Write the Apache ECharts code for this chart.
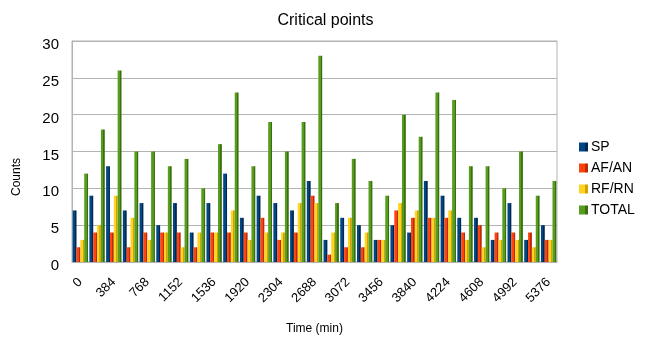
<!DOCTYPE html>
<html>
<head>
<meta charset="utf-8">
<script src="https://cdn.jsdelivr.net/npm/echarts@6/dist/echarts.min.js"></script>
<style>
  html, body { margin: 0; padding: 0; background: #fff; }
  #chart { width: 651px; height: 340px; }
</style>
</head>
<body>
<div id="chart"></div>
<script>
// Time steps (min), one group every 192 min
const times = [0, 192, 384, 576, 768, 960, 1152, 1344, 1536, 1728, 1920, 2112, 2304, 2496,
  2688, 2880, 3072, 3264, 3456, 3648, 3840, 4032, 4224, 4416, 4608, 4800, 4992, 5184, 5376];

const sp    = [7, 9, 13, 7, 8, 5, 8, 4, 8, 12, 6, 9, 8, 7, 11, 3, 6, 5, 3, 5, 4, 11, 9, 6, 6, 3, 8, 3, 5];
const afan  = [2, 4, 4, 2, 4, 4, 4, 2, 4, 4, 4, 6, 3, 4, 9, 1, 2, 2, 3, 7, 6, 6, 6, 4, 5, 4, 4, 4, 3];
const rfrn  = [3, 5, 9, 6, 3, 4, 2, 4, 4, 7, 3, 4, 4, 8, 8, 4, 6, 4, 3, 8, 7, 6, 7, 3, 2, 3, 3, 2, 3];
const total = [12, 18, 26, 15, 15, 13, 14, 10, 16, 23, 13, 19, 15, 19, 28, 8, 14, 11, 9, 20, 17, 23, 22, 13, 13, 10, 15, 9, 11];

const yTicks = [0, 5, 10, 15, 20, 25, 30];

// front face + darker side face, giving each bar a solid look
function shade(front, side) {
  return new echarts.graphic.LinearGradient(0, 0, 1, 0, [
    { offset: 0, color: front },
    { offset: 0.62, color: front },
    { offset: 0.63, color: side },
    { offset: 1, color: side }
  ]);
}

const seriesDefs = [
  { name: 'SP', data: sp, color: '#004586', side: '#00294f' },
  { name: 'AF/AN', data: afan, color: '#ff420e', side: '#b92c05' },
  { name: 'RF/RN', data: rfrn, color: '#ffd320', side: '#d1a400' },
  { name: 'TOTAL', data: total, color: '#579d1c', side: '#3a6e10' }
];

const chart = echarts.init(document.getElementById('chart'), null, { renderer: 'canvas' });

chart.setOption({
  animation: false,
  color: seriesDefs.map(s => s.color),
  title: {
    text: 'Critical points',
    left: 'center',
    top: 8,
    textStyle: { fontFamily: 'Liberation Sans', fontSize: 16, fontWeight: 'normal', color: '#000' }
  },
  legend: {
    orient: 'vertical',
    left: 574,
    top: 135,
    itemWidth: 9,
    itemHeight: 9,
    itemGap: 7,
    icon: 'rect',
    textStyle: { fontFamily: 'Liberation Sans', fontSize: 14, color: '#000', padding: [0, 0, 0, -2] },
    data: seriesDefs.map(s => s.name)
  },
  grid: {
    left: 72,
    right: 94,
    top: 41,
    bottom: 76,
    show: true,
    borderColor: '#b3b3b3',
    borderWidth: 1
  },
  xAxis: {
    type: 'category',
    data: times,
    name: 'Time (min)',
    nameLocation: 'middle',
    nameGap: 61,
    nameTextStyle: { fontFamily: 'Liberation Sans', fontSize: 12, color: '#000' },
    axisLine: { lineStyle: { color: '#b3b3b3' } },
    axisTick: { show: false },
    axisLabel: {
      interval: 1,
      rotate: 45,
      margin: 18,
      fontFamily: 'Liberation Sans',
      fontSize: 13,
      color: '#000'
    }
  },
  yAxis: {
    type: 'value',
    min: yTicks[0],
    max: yTicks[yTicks.length - 1],
    interval: 5,
    axisLine: { show: true, lineStyle: { color: '#b3b3b3' } },
    axisTick: { show: false },
    axisLabel: {
      margin: 13,
      fontFamily: 'Liberation Sans',
      fontSize: 15,
      color: '#000',
      verticalAlign: 'top',
      lineHeight: 8
    },
    splitLine: { lineStyle: { color: '#b3b3b3' } }
  },
  graphic: [{
    type: 'text',
    left: 11,
    top: 158,
    rotation: Math.PI / 2,
    style: {
      text: 'Counts',
      fontFamily: 'Liberation Sans',
      fontSize: 12,
      fill: '#000'
    }
  }],
  series: seriesDefs.map(s => ({
    name: s.name,
    type: 'bar',
    data: s.data,
    barGap: '0%',
    barCategoryGap: '8%',
    itemStyle: { color: shade(s.color, s.side) }
  }))
});
</script>
</body>
</html>
